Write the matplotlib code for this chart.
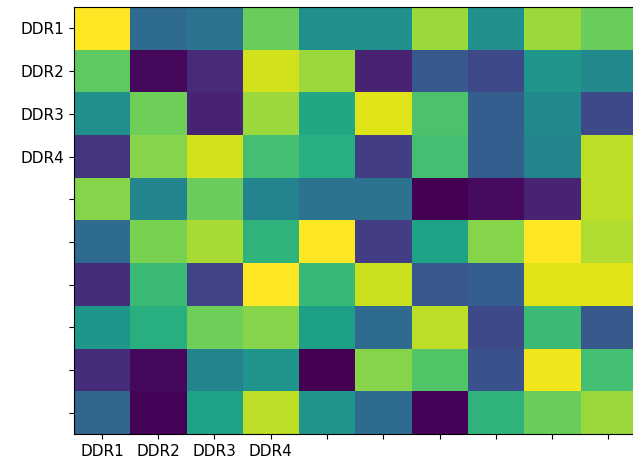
import matplotlib
matplotlib.use("Agg")
import matplotlib.pyplot as plt
import numpy as np

# Gene-expression style score matrix (rows and columns in the same order)
row_labels = ["DDR1", "DDR2", "DDR3", "DDR4", "", "", "", "", "", ""]
col_labels = ["DDR1", "DDR2", "DDR3", "DDR4", "", "", "", "", "", ""]

row_ddr1 = [1.00, 0.35, 0.38, 0.77, 0.50, 0.50, 0.85, 0.50, 0.85, 0.77]
row_ddr2 = [0.75, 0.02, 0.12, 0.93, 0.85, 0.10, 0.28, 0.22, 0.52, 0.47]
row_ddr3 = [0.50, 0.78, 0.10, 0.85, 0.60, 0.95, 0.72, 0.30, 0.47, 0.22]
row_ddr4 = [0.15, 0.82, 0.93, 0.70, 0.63, 0.18, 0.70, 0.30, 0.45, 0.90]
row_5 = [0.82, 0.45, 0.77, 0.45, 0.38, 0.38, 0.00, 0.03, 0.10, 0.90]
row_6 = [0.35, 0.80, 0.87, 0.65, 1.00, 0.18, 0.58, 0.82, 1.00, 0.88]
row_7 = [0.13, 0.68, 0.20, 1.00, 0.67, 0.92, 0.27, 0.30, 0.95, 0.95]
row_8 = [0.53, 0.63, 0.78, 0.82, 0.57, 0.35, 0.90, 0.22, 0.68, 0.28]
row_9 = [0.13, 0.02, 0.45, 0.52, 0.00, 0.82, 0.73, 0.25, 0.98, 0.70]
row_10 = [0.33, 0.01, 0.58, 0.90, 0.52, 0.35, 0.01, 0.65, 0.77, 0.85]

matrix = np.array([row_ddr1, row_ddr2, row_ddr3, row_ddr4, row_5,
                   row_6, row_7, row_8, row_9, row_10])

fig = plt.figure(figsize=(6.33, 4.61), dpi=100)
ax = fig.add_axes([0.1166, 0.0586, 0.889, 0.926])
ax.imshow(matrix, cmap="viridis", vmin=0, vmax=1, aspect="auto",
          interpolation="nearest")

ax.set_xticks(np.arange(len(col_labels)))
ax.set_xticklabels(col_labels, fontsize=11)
ax.set_yticks(np.arange(len(row_labels)))
ax.set_yticklabels(row_labels, fontsize=11)

fig.savefig("out.png", dpi=100)
